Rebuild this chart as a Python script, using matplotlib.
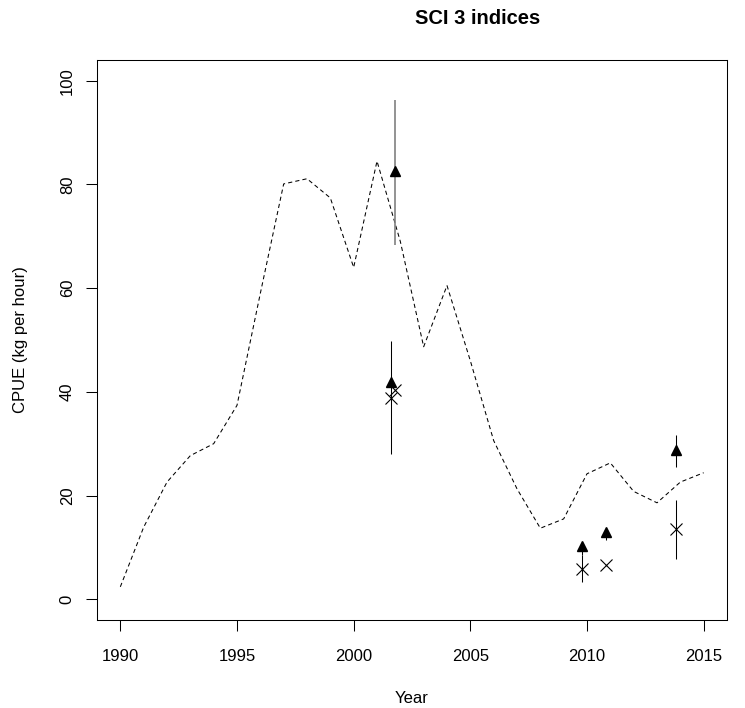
import numpy as np
import matplotlib
matplotlib.use("Agg")
import matplotlib.pyplot as plt

plt.rcParams['font.family'] = ['Liberation Sans', 'DejaVu Sans']

# model-based CPUE trend, one value per year
years = list(range(1990, 2016))
model_cpue = [2.4, 13.9, 22.6, 27.7, 30.0, 37.4, 59.0, 80.1, 81.1, 77.4,
              64.0, 84.5, 69.0, 48.7, 60.5, 46.0, 30.6, 21.3, 13.7, 15.5,
              24.2, 26.3, 20.8, 18.6, 22.6, 24.4]

# survey indices (triangles and crosses) with their intervals
survey_year = [2001.6, 2001.76, 2009.78, 2010.8, 2013.8]
tri_cpue = [41.9, 82.5, 10.2, 13.0, 28.7]
tri_lo = [np.nan, 68.4, 8.5, 11.5, 25.5]
tri_hi = [np.nan, 96.3, 10.2, 13.0, 31.6]
cross_cpue = [38.9, 40.4, 5.9, 6.7, 13.6]
cross_lo = [28.1, np.nan, 3.3, np.nan, 7.8]
cross_hi = [49.8, np.nan, 8.5, np.nan, 19.2]

fig = plt.figure(figsize=(7.45, 7.08), dpi=100)
ax = fig.add_axes([97 / 745, 88 / 708, 630 / 745, 560 / 708])

ax.plot(years, model_cpue, color='black', lw=0.75, linestyle=(0, (4, 3)))

ax.vlines(survey_year, tri_lo, tri_hi,
          colors=['black', 'gray', 'black', 'black', 'black'],
          linewidths=[0.75, 1.2, 0.75, 0.75, 0.75], zorder=3)
ax.vlines(survey_year, cross_lo, cross_hi, colors='black', linewidths=0.75, zorder=3)

ax.plot(survey_year, tri_cpue, linestyle='none', marker='^', ms=7.5,
        color='black', zorder=4)
ax.plot(survey_year, cross_cpue, linestyle='none', marker='x', ms=9,
        mew=0.8, color='black', zorder=4)

ax.set_xlim(1989, 2016)
ax.set_ylim(-4, 104)
ax.set_xticks(range(1990, 2016, 5))
ax.set_yticks(range(0, 101, 20))
ax.tick_params(axis='both', length=8, width=0.75, labelsize=12)
ax.tick_params(axis='x', pad=13)
ax.tick_params(axis='y', pad=8)
for lab in ax.get_yticklabels():
    lab.set_rotation(90)
    lab.set_va('center')
for s in ax.spines.values():
    s.set_linewidth(0.75)

ax.set_xlabel('Year', fontsize=12)
ax.xaxis.set_label_coords(0.5, -(691 - 620) / 560)
ax.set_ylabel('CPUE (kg per hour)', fontsize=12)
ax.yaxis.set_label_coords(-(97 - 28) / 630, 0.5)

fig.text(478 / 745, 1 - 18 / 708, 'SCI 3 indices', fontsize=14.5,
         fontweight='bold', ha='center', va='center')

fig.savefig('out.png', dpi=100)
